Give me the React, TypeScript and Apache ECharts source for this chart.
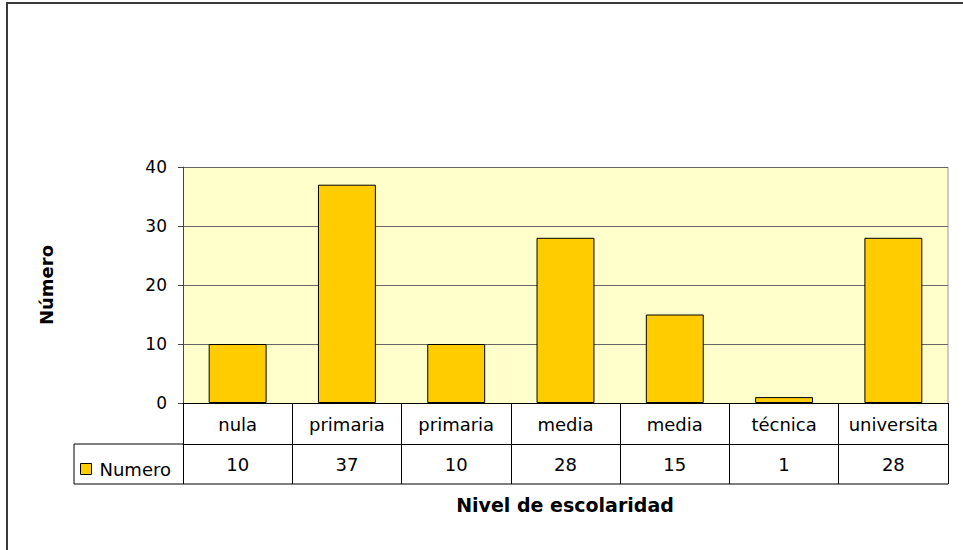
import React, { useEffect, useRef } from "react";
import * as echarts from "echarts";

const categories = ["nula", "primaria", "primaria", "media", "media", "técnica", "universita"];
const values = [10, 37, 10, 28, 15, 1, 28];
const seriesName = "Numero";
const yTicks = { min: 0, max: 40, interval: 10 };
const yTitle = "Número";
const xTitle = "Nivel de escolaridad";

const FONT = "DejaVu Sans";

export default function App() {
  const ref = useRef<HTMLDivElement>(null);
  useEffect(() => {
    if (!ref.current) return;
    const chart = echarts.init(ref.current, null, { renderer: "svg" });
    const gridLeft = 183;
    const gridRight = 948;
    const gridTop = 167;
    const gridBottom = 403;
    const row1 = 41;
    const row2 = 40;
    chart.setOption({
      animation: false,
      backgroundColor: "#ffffff",
      textStyle: { fontFamily: FONT },
      grid: {
        left: gridLeft,
        right: 963 - gridRight,
        top: gridTop,
        bottom: 550 - gridBottom,
        show: true,
        backgroundColor: "#FFFFCC",
        borderWidth: 0,
      },
      legend: {
        show: true,
        left: 80,
        top: 460,
        padding: 0,
        itemWidth: 11,
        itemHeight: 11,
        icon: "rect",
        data: [seriesName],
        textStyle: { fontFamily: FONT, fontSize: 18, color: "#000", padding: [0, 0, 0, 3] },
        itemStyle: { borderColor: "#000", borderWidth: 1 },
      },
      xAxis: [
        {
          type: "category",
          data: categories,
          position: "bottom",
          boundaryGap: true,
          axisLine: { show: true, lineStyle: { color: "#000", width: 1 } },
          axisTick: { show: true, interval: 0, length: row1, lineStyle: { color: "#000", width: 1 } },
          axisLabel: { interval: 0, fontFamily: FONT, fontSize: 18, color: "#000", margin: 12 },
          splitLine: { show: false },
        },
        {
          type: "category",
          data: values.map((v) => String(v)),
          position: "bottom",
          offset: row1,
          boundaryGap: true,
          axisLine: { show: true, lineStyle: { color: "#000", width: 1 } },
          axisTick: { show: true, interval: 0, length: row2, lineStyle: { color: "#000", width: 1 } },
          axisLabel: { interval: 0, fontFamily: FONT, fontSize: 18, color: "#000", margin: 11 },
          splitLine: { show: false },
        },
      ],
      yAxis: {
        type: "value",
        min: yTicks.min,
        max: yTicks.max,
        interval: yTicks.interval,
        name: yTitle,
        nameLocation: "middle",
        nameGap: 128,
        nameRotate: 90,
        nameTextStyle: { fontFamily: FONT, fontSize: 18, fontWeight: "bold", color: "#000" },
        axisLine: { show: true, lineStyle: { color: "#444", width: 1 } },
        axisTick: { show: true, length: 5, lineStyle: { color: "#444" } },
        axisLabel: { fontFamily: FONT, fontSize: 17, color: "#000", margin: 16 },
        splitLine: { show: true, lineStyle: { color: "#666", width: 1 } },
      },
      graphic: [
        {
          type: "rect",
          silent: true,
          shape: { x: 7, y: 3, width: 1100, height: 700 },
          style: { fill: "none", stroke: "#3a3a3a", lineWidth: 2 },
        },
        {
          type: "line",
          silent: true,
          shape: { x1: 74, y1: gridBottom + row1, x2: gridLeft, y2: gridBottom + row1 },
          style: { stroke: "#000", lineWidth: 1 },
        },
        {
          type: "line",
          silent: true,
          shape: { x1: 74, y1: gridBottom + row1, x2: 74, y2: gridBottom + row1 + row2 },
          style: { stroke: "#000", lineWidth: 1 },
        },
        {
          type: "line",
          silent: true,
          shape: { x1: 74, y1: gridBottom + row1 + row2, x2: gridRight, y2: gridBottom + row1 + row2 },
          style: { stroke: "#000", lineWidth: 1 },
        },
        {
          type: "line",
          silent: true,
          shape: { x1: gridRight, y1: gridTop, x2: gridRight, y2: gridBottom },
          style: { stroke: "#999", lineWidth: 1 },
        },
        {
          type: "text",
          silent: true,
          x: 565,
          y: 505,
          style: {
            text: xTitle,
            fontFamily: FONT,
            fontSize: 19,
            fontWeight: "bold",
            fill: "#000",
            align: "center",
            verticalAlign: "middle",
          },
        },
      ],
      series: [
        {
          name: seriesName,
          type: "bar",
          xAxisIndex: 0,
          data: values,
          barCategoryGap: "47%",
          itemStyle: { color: "#FFCC00", borderColor: "#000", borderWidth: 1 },
        },
      ],
    });
    return () => chart.dispose();
  }, []);
  return (
    <div
      ref={ref}
      style={{ position: "fixed", left: 0, top: 0, width: 963, height: 550, background: "#fff" }}
    />
  );
}
